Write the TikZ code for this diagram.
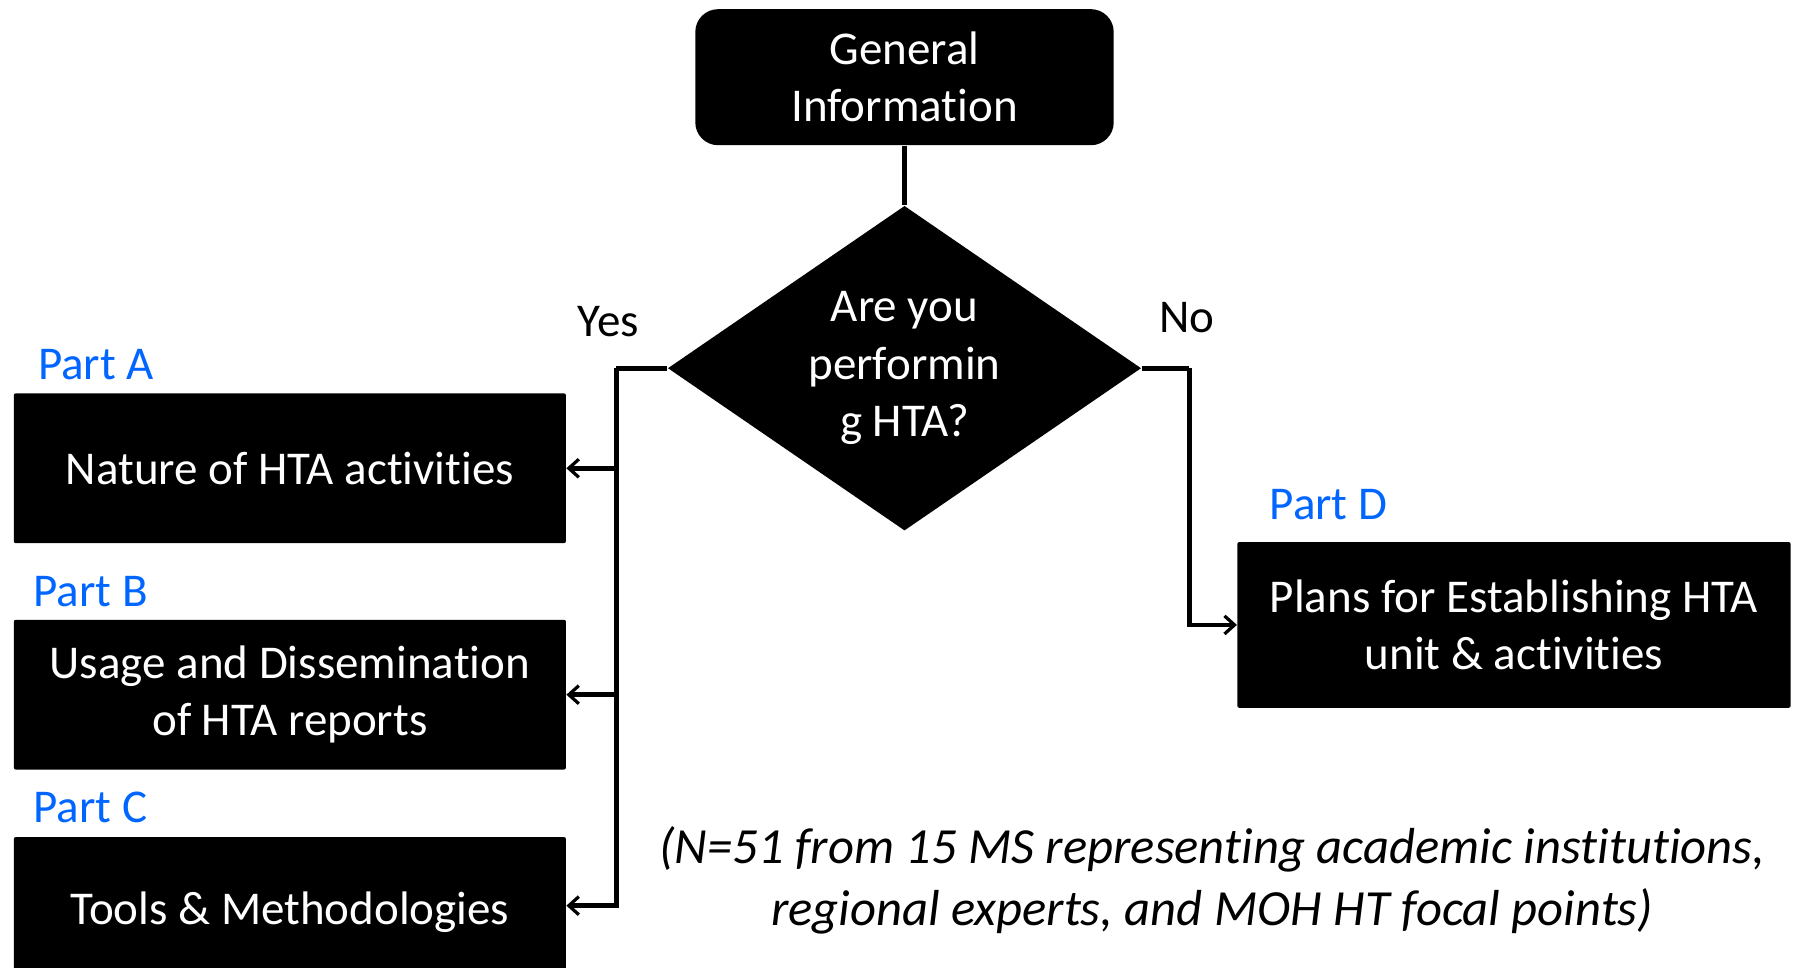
\documentclass[tikz,border=0pt]{standalone}
\usepackage{fontspec}
\setmainfont{Carlito}[Ligatures={NoCommon,NoContextual,NoRequired},Contextuals=NoAlternate,RawFeature=-ccmp]
\usetikzlibrary{shapes.geometric,arrows.meta}
\definecolor{partblue}{RGB}{0,102,255}
\begin{document}
\begin{tikzpicture}[x=0.02cm,y=-0.02cm,
    every node/.style={font=\fontsize{23.4}{28.5}\selectfont},
    block/.style={fill=black,text=white,align=center,inner sep=0pt,
      minimum width=9.66cm,minimum height=2.62cm,rounded corners=1pt},
    partlabel/.style={text=partblue,anchor=west,inner sep=0pt},
    link/.style={line width=2.4pt},
    arr/.style={link,-{Straight Barb[length=5pt,width=9pt,line width=1.6pt]}}]
  \useasboundingbox (0,0) rectangle (1568,846.5);
  \clip (0,0) rectangle (1568,846.5);
  \draw
    (791,67.5) node[block,minimum width=7.32cm,minimum height=2.38cm,rounded corners=0.4cm] (gen){General\\Information}
    (791,322) node[diamond,shape aspect=1.458,fill=black,text=white,align=center,inner sep=0pt,
      minimum width=8.28cm,minimum height=5.68cm] (q){Are you\\performin\\g HTA?}
    (253.5,409.5) node[block] (A){Nature of HTA activities}
    (253.5,607.5) node[block] (B){Usage and Dissemination\\of HTA reports}
    (253.5,797.5) node[block] (C){Tools \& Methodologies}
    (1324,546.5) node[block,minimum width=9.68cm,minimum height=2.9cm] (D){Plans for Establishing HTA\\unit \& activities};
  \draw
    (33,319) node[partlabel] (pA){Part A}
    (29,517) node[partlabel] (pB){Part B}
    (29,706) node[partlabel] (pC){Part C}
    (1110,441) node[partlabel] (pD){Part D}
    (532,281) node (yes){Yes}
    (1038,278) node (no){No}
    (1060,770) node[align=center,font=\fontsize{25.2}{30.7}\selectfont\itshape] (note){(N=51 from 15 MS representing academic institutions,\\regional experts, and MOH HT focal points)};
  \coordinate (ysplit) at (539,322);
  \coordinate (nsplit) at (1040,322);
  \begin{scope}[link]
    \draw (gen) to (q);
    \draw (q.west) -- (ysplit);
    \draw (q.east) -- (nsplit);
  \end{scope}
  \begin{scope}[arr]
    \draw (ysplit) |- (A.east);
    \draw (ysplit) |- (B.east);
    \draw (ysplit) |- ([yshift=0.11cm]C.east);
    \draw (nsplit) |- (D.west);
  \end{scope}
\end{tikzpicture}
\end{document}
